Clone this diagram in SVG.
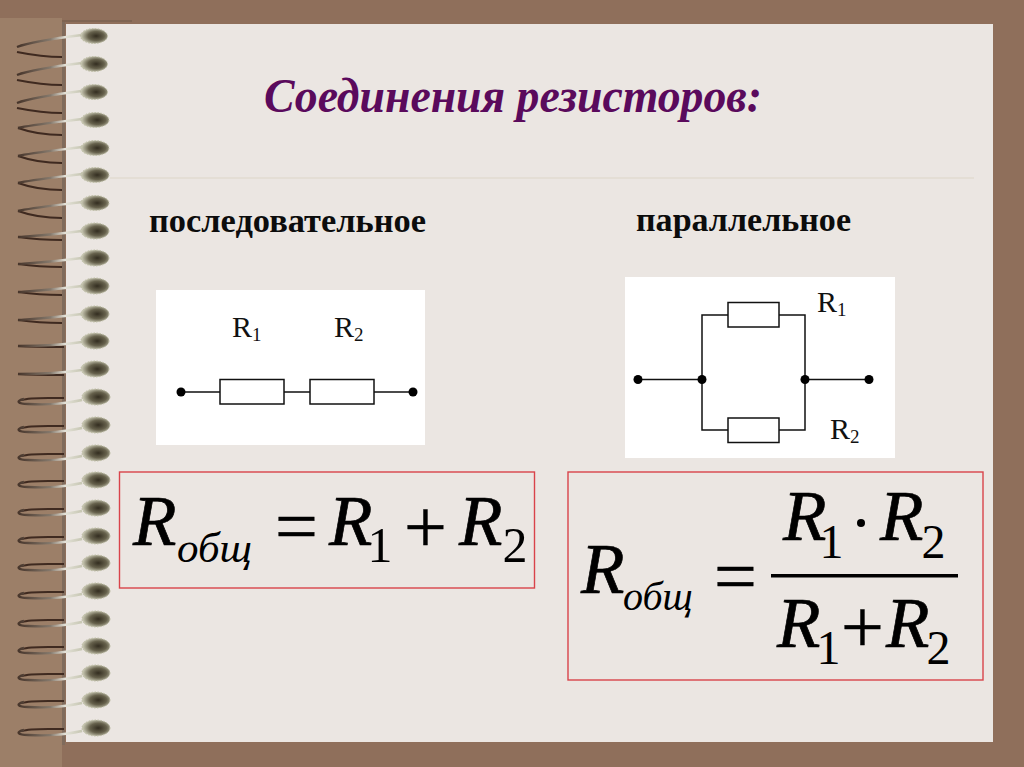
<svg xmlns="http://www.w3.org/2000/svg" width="1024" height="767" viewBox="0 0 1024 767">
<style>
text{font-family:"Liberation Serif","Times New Roman",serif;fill:#000}
.ttl{font-size:48px;font-weight:bold;font-style:italic;fill:#5a0a5c}
.sub{font-size:34px;font-weight:bold;fill:#0c0c0c}
.lab{font-size:30px;fill:#111}
.labs{font-size:19px;fill:#111}
.R{font-size:71px;font-style:italic;stroke:#000;stroke-width:.7}
.n{font-size:50px}
.n2{font-size:48px}
.o{font-size:43px;font-style:italic}
.o2{font-size:40px;font-style:italic}
.op{font-size:76px;stroke:#000;stroke-width:.5}
.w{fill:none;stroke:#111;stroke-width:1.5}
.res{fill:#fff;stroke:#111;stroke-width:1.5}
.box{fill:none;stroke:#d9434a;stroke-width:1.4}
.up{fill:none;stroke:url(#wire);stroke-width:2.4}
.dn{fill:none;stroke:#3f2a20;stroke-width:2}
.bd{fill:url(#bead);stroke:#bdbca4;stroke-width:1;stroke-dasharray:1.500 1.500}
</style>
<defs>
<radialGradient id="bead" cx="0.58" cy="0.5" r="0.55">
<stop offset="0" stop-color="#332d20"/><stop offset="0.55" stop-color="#66614c"/><stop offset="1" stop-color="#c6c5b0"/>
</radialGradient>
<linearGradient id="wire" gradientUnits="userSpaceOnUse" x1="17" x2="84" y1="0" y2="0">
<stop offset="0" stop-color="#453329"/><stop offset="0.5" stop-color="#85796c"/><stop offset="0.72" stop-color="#e4e2d8"/><stop offset="1" stop-color="#c3c3ae"/>
</linearGradient>
<g id="coilA">
<path class="dn" d="M17 16C32 19 48 21 62 21"/>
<path class="up" d="M17 11C30 6 50 3 82 -1"/>
<ellipse class="bd" cx="94" cy="0" rx="13.500" ry="7.500"/>
</g>
<g id="coilB">
<path class="dn" d="M18 8C32 13 48 15 62 15"/>
<path class="up" d="M18 8C30 5 50 3 82 -1"/>
<ellipse class="bd" cx="95" cy="0" rx="14" ry="7.500"/>
</g>
<g id="coilC">
<path class="dn" d="M18 6C32 8 48 9 62 9"/>
<path class="up" d="M18 6C30 5 50 4 82 0"/>
<ellipse class="bd" cx="95" cy="0" rx="14" ry="8"/>
</g>
<g id="coilD">
<path class="dn" d="M18 5C32 6 48 6 64 6"/>
<path class="up" d="M18 5C30 5 56 5 82 1"/>
<ellipse class="bd" cx="95" cy="0" rx="14" ry="8"/>
</g>
<g id="coilE">
<path class="dn" d="M22 3C30 0 48 1 64 1"/>
<path class="up" d="M24 2C15 4 18 7 28 7C50 8 62 7 82 3"/>
<ellipse class="bd" cx="96" cy="0" rx="14" ry="8"/>
</g>
</defs>
<g id="background">
<rect width="1024" height="767" fill="#8f6f5b"/>
<rect x="0" y="18" width="62" height="749" fill="#9c7f68"/>
<rect x="62" y="20" width="3" height="725" fill="#7f6b5c"/>
<rect x="62" y="20" width="70" height="2" fill="#7f6452"/>
<rect x="66" y="24" width="927" height="718" fill="#ebe6e2"/>
<line x1="110" y1="178" x2="974" y2="178" stroke="#ddd6c8" stroke-width="1"/>
</g>
<g id="spiral">
<use href="#coilA" y="36"/><use href="#coilA" y="64"/><use href="#coilA" y="92"/>
<use href="#coilB" y="120"/><use href="#coilB" y="148"/><use href="#coilB" y="175"/><use href="#coilB" y="203"/>
<use href="#coilC" y="231"/><use href="#coilC" y="258"/><use href="#coilC" y="286"/><use href="#coilC" y="314"/>
<use href="#coilD" y="341"/><use href="#coilD" y="369"/>
<use href="#coilE" y="397"/><use href="#coilE" y="425"/><use href="#coilE" y="453"/><use href="#coilE" y="480"/><use href="#coilE" y="508"/><use href="#coilE" y="536"/><use href="#coilE" y="563"/><use href="#coilE" y="591"/><use href="#coilE" y="619"/><use href="#coilE" y="646"/><use href="#coilE" y="673"/><use href="#coilE" y="700"/><use href="#coilE" y="728"/>
</g>
<g id="title"><text class="ttl" x="264" y="112" textLength="498" lengthAdjust="spacingAndGlyphs">Соединения резисторов:</text></g>
<g id="heading-series"><text class="sub" x="149" y="232" textLength="277" lengthAdjust="spacingAndGlyphs">последовательное</text></g>
<g id="heading-parallel"><text class="sub" x="636" y="231" textLength="215" lengthAdjust="spacingAndGlyphs">параллельное</text></g>
<g id="series-panel"><rect x="156" y="290" width="269" height="155" fill="#fff"/></g>
<g id="parallel-panel"><rect x="625" y="277" width="270" height="181" fill="#fff"/></g>
<g id="connectors">
<path class="w" d="M181 392H220M284 392H310M374 392H413"/>
<path class="w" d="M638 379.500H702M805 379.500H869M702 379.500V315H728M779 315H805V379.500M702 379.500V430H728M779 430H805V379.500"/>
</g>
<g id="series-r1"><rect class="res" x="220" y="379.500" width="64" height="24.500"/><text class="lab" x="232" y="337">R<tspan class="labs" dy="4">1</tspan></text></g>
<g id="series-r2"><rect class="res" x="310" y="379.500" width="64" height="24.500"/><text class="lab" x="334" y="337">R<tspan class="labs" dy="4">2</tspan></text></g>
<g id="series-t1"><circle cx="181" cy="392" r="4.500" fill="#000"/></g>
<g id="series-t2"><circle cx="413" cy="392" r="4.500" fill="#000"/></g>
<g id="par-r1"><rect class="res" x="728" y="302.500" width="51" height="24.500"/><text class="lab" x="817" y="312">R<tspan class="labs" dy="4">1</tspan></text></g>
<g id="par-r2"><rect class="res" x="728" y="418" width="51" height="24.500"/><text class="lab" x="830" y="439">R<tspan class="labs" dy="4">2</tspan></text></g>
<g id="par-t1"><circle cx="638" cy="379.500" r="4.500" fill="#000"/></g>
<g id="par-j1"><circle cx="702" cy="379.500" r="4.500" fill="#000"/></g>
<g id="par-j2"><circle cx="805" cy="379.500" r="4.500" fill="#000"/></g>
<g id="par-t2"><circle cx="869" cy="379.500" r="4.500" fill="#000"/></g>
<g id="formula-series">
<rect class="box" x="119.500" y="472" width="415" height="116"/>
<text class="R" x="133" y="545">R</text>
<text class="o" x="177" y="562">общ</text>
<text class="op" x="275" y="552">=</text>
<text x="329" y="545"><tspan class="R">R</tspan><tspan class="n" dx="-5" dy="17">1</tspan></text>
<text class="op" x="404" y="552">+</text>
<text x="459" y="545"><tspan class="R">R</tspan><tspan class="n" dy="17">2</tspan></text>
</g>
<g id="formula-parallel">
<rect class="box" x="568" y="472" width="415" height="208"/>
<text class="R" x="581" y="593">R</text>
<text class="o2" x="623" y="610">общ</text>
<text class="op" x="714" y="602">=</text>
<text x="783" y="540"><tspan class="R">R</tspan><tspan class="n2" dx="-7" dy="18">1</tspan></text>
<circle cx="861" cy="523" r="4" fill="#000"/>
<text x="880" y="540"><tspan class="R">R</tspan><tspan class="n2" dx="-2" dy="18">2</tspan></text>
<rect x="771" y="574" width="187" height="3.500" fill="#000"/>
<text x="777" y="647"><tspan class="R">R</tspan><tspan class="n2" dx="-4" dy="17">1</tspan></text>
<text class="op" x="841" y="652">+</text>
<text x="886" y="647"><tspan class="R">R</tspan><tspan class="n2" dx="-3" dy="17">2</tspan></text>
</g>
</svg>
